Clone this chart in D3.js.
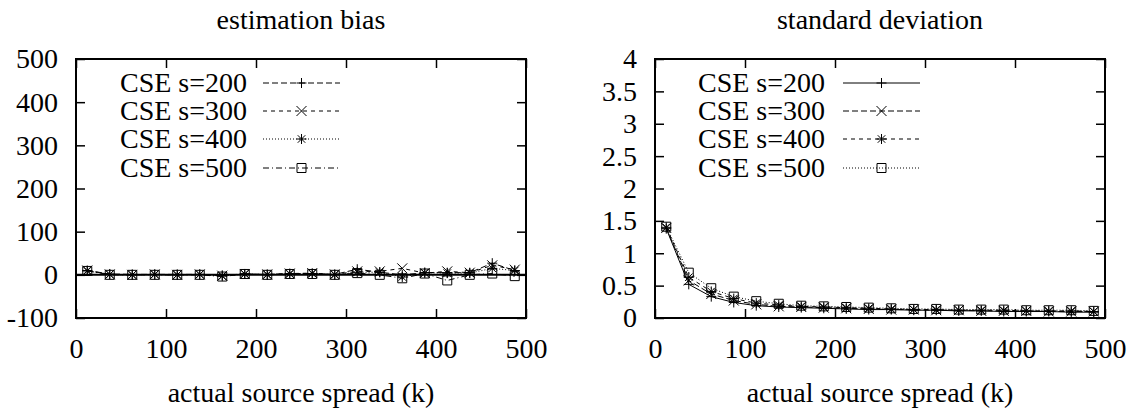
<!DOCTYPE html>
<html>
<head>
<meta charset="utf-8">
<script src="https://cdn.jsdelivr.net/npm/d3@7"></script>
<style>
  html, body { margin: 0; padding: 0; background: #fff; }
  svg { display: block; }
  text { font-family: "Liberation Serif", "Times New Roman", serif; fill: #000; }
</style>
</head>
<body>
<svg id="chart" width="1144" height="410"></svg>
<script>
// ---------------- data ----------------
const spreads = [12.5, 37.5, 62.5, 87.5, 112.5, 137.5, 162.5, 187.5, 212.5, 237.5,
                 262.5, 287.5, 312.5, 337.5, 362.5, 387.5, 412.5, 437.5, 462.5, 487.5];

const seriesNames = ["CSE s=200", "CSE s=300", "CSE s=400", "CSE s=500"];

const bias200 = [10, 2, 1, 1, 1, 1, -1, 2, 1, 3, 3, 1, 13, 6, 0, 5, 5, 5, 27, 10];
const bias300 = [10, 1, 0, 1, 0, 1, -2, 2, 1, 3, 4, 1, 8, 8, 15, 4, 8, 5, 22, 12];
const bias400 = [9, 1, 0, 1, 0, 1, -3, 2, 0, 2, 3, 0, 6, 6, -5, 5, 4, 4, 15, 10];
const bias500 = [9, 0, 0, 0, 0, 0, -4, 2, 0, 2, 2, 0, 4, 0, -8, 3, -13, 0, 3, -3];

const sd200 = [1.38, 0.52, 0.33, 0.24, 0.19, 0.17, 0.16, 0.15, 0.14, 0.13, 0.13, 0.12, 0.12, 0.11, 0.11, 0.10, 0.10, 0.10, 0.09, 0.09];
const sd300 = [1.39, 0.58, 0.37, 0.27, 0.21, 0.18, 0.17, 0.16, 0.15, 0.14, 0.13, 0.13, 0.12, 0.12, 0.11, 0.11, 0.11, 0.10, 0.10, 0.10];
const sd400 = [1.40, 0.63, 0.41, 0.30, 0.23, 0.20, 0.18, 0.17, 0.16, 0.15, 0.14, 0.13, 0.13, 0.12, 0.12, 0.12, 0.11, 0.11, 0.11, 0.10];
const sd500 = [1.41, 0.70, 0.46, 0.33, 0.26, 0.22, 0.19, 0.18, 0.17, 0.16, 0.15, 0.14, 0.14, 0.13, 0.13, 0.13, 0.12, 0.12, 0.12, 0.11];

const xTickValues = [0, 100, 200, 300, 400, 500];
const biasTickValues = [-100, 0, 100, 200, 300, 400, 500];
const sdTickValues = [0, 0.5, 1, 1.5, 2, 2.5, 3, 3.5, 4];

const titles = ["estimation bias", "standard deviation"];
const xLabel = "actual source spread (k)";

// ---------------- drawing ----------------
const svg = d3.select("#chart");
const FONT = 28;

// marker shapes (gnuplot point types 1..4), centred on 0,0
const MS = 5;
const markerPaths = {
  plus:  `M${-MS},0H${MS}M0,${-MS}V${MS}`,
  cross: `M${-MS},${-MS}L${MS},${MS}M${-MS},${MS}L${MS},${-MS}`,
  star:  `M${-MS},0H${MS}M0,${-MS}V${MS}M${-MS*0.75},${-MS*0.75}L${MS*0.75},${MS*0.75}M${-MS*0.75},${MS*0.75}L${MS*0.75},${-MS*0.75}`,
  box:   `M${-MS+0.5},${-MS+0.5}H${MS-0.5}V${MS-0.5}H${-MS+0.5}Z`
};
const markerOrder = ["plus", "cross", "star", "box"];

function drawPlot(cfg) {
  const { left, right, top, bottom, yDomain, yTicks, series, dashes, title, zeroAxis, legendText, legendLine } = cfg;
  const x = d3.scaleLinear().domain([0, 500]).range([left, right]);
  const y = d3.scaleLinear().domain(yDomain).range([bottom, top]);
  const g = svg.append("g");

  // title
  g.append("text")
    .attr("x", (left + right) / 2).attr("y", 29)
    .attr("text-anchor", "middle").style("font-size", FONT + "px")
    .text(title);

  // axes (inward ticks, gnuplot style)
  const fmt = d => String(d);
  const bx = g.append("g").attr("transform", `translate(0,${bottom})`)
    .call(d3.axisBottom(x).tickValues(xTickValues).tickSize(-9).tickSizeOuter(0).tickFormat(fmt));
  bx.selectAll("text").attr("y", 40).attr("dy", 0).style("font-size", FONT + "px").style("font-family", "Liberation Serif");
  const tx = g.append("g").attr("transform", `translate(0,${top})`)
    .call(d3.axisTop(x).tickValues(xTickValues).tickSize(-9).tickSizeOuter(0).tickFormat(""));
  const ly = g.append("g").attr("transform", `translate(${left},0)`)
    .call(d3.axisLeft(y).tickValues(yTicks).tickSize(-9).tickSizeOuter(0).tickFormat(fmt));
  ly.selectAll("text").attr("x", -18).attr("dy", "0.32em").style("font-size", FONT + "px").style("font-family", "Liberation Serif");
  const ry = g.append("g").attr("transform", `translate(${right},0)`)
    .call(d3.axisRight(y).tickValues(yTicks).tickSize(-9).tickSizeOuter(0).tickFormat(""));
  [bx, tx, ly, ry].forEach(a => {
    a.select(".domain").remove();
    a.selectAll(".tick line").attr("stroke", "#000").attr("stroke-width", 1.5);
  });

  // zero axis
  if (zeroAxis) {
    g.append("line")
      .attr("x1", left).attr("x2", right).attr("y1", y(0)).attr("y2", y(0))
      .attr("stroke", "#000").attr("stroke-width", 2);
  }

  // series
  const line = d3.line().x((d, i) => x(spreads[i])).y(d => y(d));
  series.forEach((vals, k) => {
    g.append("path").datum(vals)
      .attr("d", line).attr("fill", "none")
      .attr("stroke", "#000").attr("stroke-width", 1)
      .attr("stroke-dasharray", dashes[k]);
    g.selectAll(null).data(vals).enter().append("path")
      .attr("transform", (d, i) => `translate(${x(spreads[i])},${y(d)})`)
      .attr("d", markerPaths[markerOrder[k]])
      .attr("fill", "none").attr("stroke", "#000").attr("stroke-width", 1);
  });

  // legend
  const rowY = [83, 111, 139, 168];
  seriesNames.forEach((name, k) => {
    g.append("text")
      .attr("x", legendText).attr("y", rowY[k]).attr("dy", "0.33em")
      .attr("text-anchor", "end").style("font-size", FONT + "px")
      .text(name);
    g.append("line")
      .attr("x1", legendLine[0]).attr("x2", legendLine[1])
      .attr("y1", rowY[k]).attr("y2", rowY[k])
      .attr("stroke", "#000").attr("stroke-width", 1)
      .attr("stroke-dasharray", dashes[k]);
    g.append("path")
      .attr("transform", `translate(${(legendLine[0] + legendLine[1]) / 2},${rowY[k]})`)
      .attr("d", markerPaths[markerOrder[k]])
      .attr("fill", "none").attr("stroke", "#000").attr("stroke-width", 1);
  });

  // frame
  g.append("rect")
    .attr("x", left).attr("y", top).attr("width", right - left).attr("height", bottom - top)
    .attr("fill", "none").attr("stroke", "#000").attr("stroke-width", 2);

  // x label
  g.append("text")
    .attr("x", (left + right) / 2).attr("y", 402)
    .attr("text-anchor", "middle").style("font-size", FONT + "px")
    .text(xLabel);
}

drawPlot({
  left: 76, right: 526, top: 59, bottom: 318,
  yDomain: [-100, 500], yTicks: biasTickValues,
  series: [bias200, bias300, bias400, bias500],
  dashes: ["6,3", "4,4", "1,2", "6,3,1,3"],
  title: titles[0], zeroAxis: true,
  legendText: 247, legendLine: [263, 340]
});

drawPlot({
  left: 655, right: 1105, top: 59, bottom: 318,
  yDomain: [0, 4], yTicks: sdTickValues,
  series: [sd200, sd300, sd400, sd500],
  dashes: [null, "6,3", "4,4", "1,2"],
  title: titles[1], zeroAxis: false,
  legendText: 825, legendLine: [843, 920]
});
</script>
</body>
</html>
